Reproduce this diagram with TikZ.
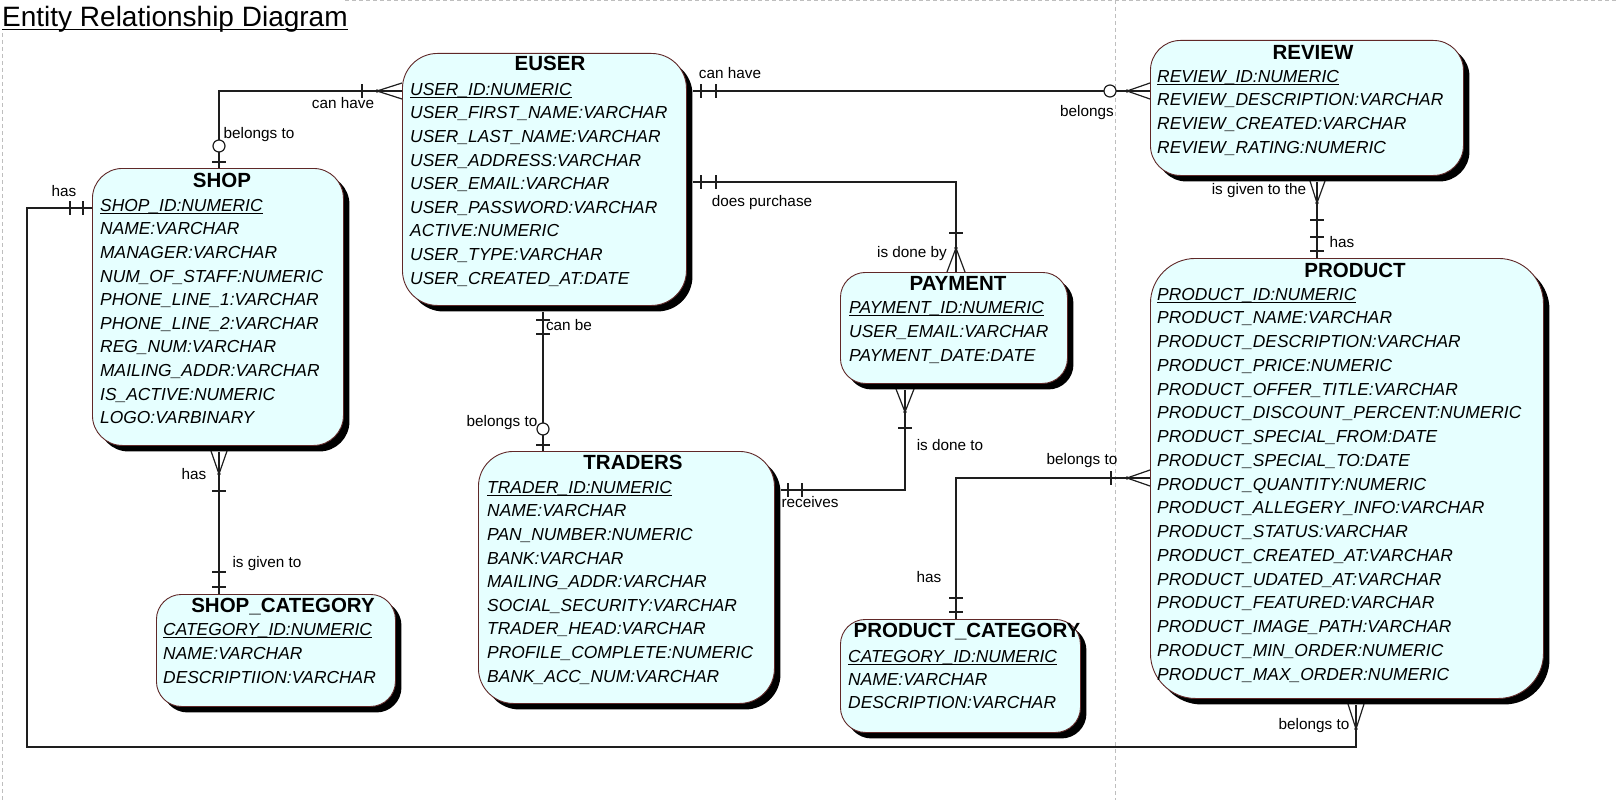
\documentclass[tikz,border=0pt]{standalone}
\usepackage{fontspec}
\setmainfont{Liberation Sans}
\usetikzlibrary{shadows}
\definecolor{boxfill}{RGB}{230,255,255}
\definecolor{boxline}{RGB}{96,40,40}
\definecolor{pagedash}{RGB}{190,190,190}
\definecolor{linecol}{RGB}{30,30,30}
\newcommand\myul[3]{\setbox0\hbox{#3}\rlap{\rule[-#1]{\wd0}{#2}}\box0}
\tikzset{
  entity/.style={draw=boxline, line width=0.9pt, fill=boxfill, rounded corners=#1,
    inner sep=0pt, anchor=north west,
    drop shadow={shadow xshift=6pt, shadow yshift=-6pt, opacity=1, fill=black}},
  entity/.default=30pt,
  etitle/.style={font=\fontsize{20.5}{24}\selectfont\bfseries, inner sep=0pt, anchor=base},
  attr/.style={font=\fontsize{17.4}{20}\selectfont\itshape, inner sep=0pt, anchor=base west, text=black},
  lbl/.style={font=\fontsize{15.3}{18}\selectfont, inner sep=0pt, anchor=center},
  conn/.style={draw=linecol, line width=1.2pt},
  tick/.style={draw=linecol, line width=1.2pt},
  pdash/.style={draw=pagedash, line width=1pt, dash pattern=on 4pt off 3pt}
}
\begin{document}
\begin{tikzpicture}[x=1pt, y=-1pt]
\useasboundingbox (0,0) rectangle (1616,800);
% page lines
\draw[pdash] (345,1) -- (1616,1);
\draw[pdash] (2,33) -- (2,800);
\draw[pdash] (1115,0) -- (1115,800);

% title
\node[anchor=base west, inner sep=0pt, font=\fontsize{28}{32}\selectfont] (title) at (2,27)
  {\myul{3.5pt}{1.6pt}{Entity Relationship Diagram}};

% entity boxes (drawn first as shapes, connectors are drawn from their names)
\node[entity=30pt, minimum width=251pt, minimum height=277pt] (shop) at (92,168) {};
\node[entity=35pt, minimum width=284pt, minimum height=252pt] (euser) at (402,53) {};
\node[entity=30pt, minimum width=313pt, minimum height=135pt] (review) at (1150,40) {};
\node[entity=45pt, minimum width=393pt, minimum height=440pt] (product) at (1150,258) {};
\node[entity=25pt, minimum width=227pt, minimum height=111pt] (payment) at (840,272) {};
\node[entity=35pt, minimum width=296pt, minimum height=252pt] (traders) at (478,451) {};
\node[entity=25pt, minimum width=239pt, minimum height=112pt] (shopcat) at (156,594) {};
\node[entity=25pt, minimum width=240pt, minimum height=113pt] (prodcat) at (840,619) {};

% bend points
\coordinate (b1) at (219,91);
\coordinate (b3) at (956,182);
\coordinate (b4) at (543,0);
\coordinate (b5) at (905,490);
\coordinate (b6) at (219,0);
\coordinate (b7a) at (27,208);
\coordinate (b7b) at (27,747);
\coordinate (b7c) at (1356,747);
\coordinate (b8) at (956,478);
\coordinate (b9) at (1317,0);

% connectors
\draw[conn] (euser.west |- b1) -- (b1) -- ([yshift=0pt]shop.north -| b1);
\draw[conn] ([xshift=6pt]euser.east |- b1) -- (review.west |- b1);
\draw[conn] ([xshift=6pt]euser.east |- b3) -- (b3) -- (payment.north -| b3);
\draw[conn] ([yshift=-6pt]euser.south -| b4) -- (traders.north -| b4);
\draw[conn] ([xshift=6pt]traders.east |- b5) -- (b5) -- ([yshift=-6pt]payment.south -| b5);
\draw[conn] ([yshift=-6pt]shop.south -| b6) -- (shopcat.north -| b6);
\draw[conn] (shop.west |- b7a) -- (b7a) -- (b7b) -- (b7c) -- ([yshift=-6pt]product.south -| b7c);
\draw[conn] (product.west |- b8) -- (b8) -- (prodcat.north -| b8);
\draw[conn] ([yshift=-6pt]review.south -| b9) -- (product.north -| b9);

% cardinality marks
% 1 euser - shop
\draw[tick] (362,84) -- (362,98);
\draw[tick] (377,91) -- (402,83) (377,91) -- (402,99);
\fill[linecol] (377,91) circle (1.8pt);
\draw[tick] (212,162) -- (226,162);
\draw[tick, fill=white] (219,146) circle (6pt);
% 2 euser - review
\draw[tick] (701,84) -- (701,98) (716,84) -- (716,98);
\draw[tick, fill=white] (1110,91) circle (6pt);
\draw[tick] (1127,91) -- (1150,83) (1127,91) -- (1150,99);
\fill[linecol] (1127,91) circle (1.8pt);
% 3 euser - payment
\draw[tick] (701,175) -- (701,189) (716,175) -- (716,189);
\draw[tick] (949,233) -- (963,233);
\draw[tick] (956,248) -- (947,272) (956,248) -- (965,272);
\fill[linecol] (956,248) circle (1.8pt);
% 4 euser - traders
\draw[tick] (536,320) -- (550,320) (536,334) -- (550,334);
\draw[tick, fill=white] (543,429) circle (6pt);
\draw[tick] (536,445) -- (550,445);
% 5 traders - payment
\draw[tick] (788,483) -- (788,497) (802,483) -- (802,497);
\draw[tick] (898,428) -- (912,428);
\draw[tick] (905,412) -- (896,389) (905,412) -- (914,389);
\fill[linecol] (905,412) circle (1.8pt);
% 6 shop - shop category
\draw[tick] (219,474) -- (211,451) (219,474) -- (227,451);
\fill[linecol] (219,474) circle (1.8pt);
\draw[tick] (212,491) -- (226,491);
\draw[tick] (212,572) -- (226,572) (212,587) -- (226,587);
% 7 shop - product
\draw[tick] (70,201) -- (70,215) (83,201) -- (83,215);
\draw[tick] (1356,729) -- (1348,704) (1356,729) -- (1364,704);
\fill[linecol] (1356,729) circle (1.8pt);
% 8 product - product category
\draw[tick] (1111,471) -- (1111,485);
\draw[tick] (1127,478) -- (1150,470) (1127,478) -- (1150,486);
\fill[linecol] (1127,478) circle (1.8pt);
\draw[tick] (949,598) -- (963,598) (949,612) -- (963,612);
% 9 review - product
\draw[tick] (1317,203) -- (1310,181) (1317,203) -- (1325,181);
\fill[linecol] (1317,203) circle (1.8pt);
\draw[tick] (1310,220) -- (1324,220) (1310,237) -- (1324,237) (1310,251) -- (1324,251);

% titles
\node[etitle] (shop-t) at (222,187.3) {SHOP};
\node[etitle] (euser-t) at (550,70.3) {EUSER};
\node[etitle] (review-t) at (1313,59.3) {REVIEW};
\node[etitle] (product-t) at (1355,277.3) {PRODUCT};
\node[etitle] (payment-t) at (958,290.3) {PAYMENT};
\node[etitle] (traders-t) at (633,469.3) {TRADERS};
\node[etitle] (shopcat-t) at (283,612.3) {SHOP\_CATEGORY};
\node[etitle] (prodcat-t) at (967,637.3) {PRODUCT\_CATEGORY};

% attributes
\foreach \t [count=\i] in {\myul{3pt}{1pt}{SHOP\_ID:NUMERIC}, NAME:VARCHAR, MANAGER:VARCHAR,
  NUM\_OF\_STAFF:NUMERIC, PHONE\_LINE\_1:VARCHAR, PHONE\_LINE\_2:VARCHAR, REG\_NUM:VARCHAR,
  MAILING\_ADDR:VARCHAR, IS\_ACTIVE:NUMERIC, LOGO:VARBINARY}
  \node[attr] (shop-a\i) at (100,{211.2+(\i-1)*23.6}) {\t};
\foreach \t [count=\i] in {\myul{3pt}{1pt}{USER\_ID:NUMERIC}, USER\_FIRST\_NAME:VARCHAR,
  USER\_LAST\_NAME:VARCHAR, USER\_ADDRESS:VARCHAR, USER\_EMAIL:VARCHAR, USER\_PASSWORD:VARCHAR,
  ACTIVE:NUMERIC, USER\_TYPE:VARCHAR, USER\_CREATED\_AT:DATE}
  \node[attr] (euser-a\i) at (410,{95.2+(\i-1)*23.6}) {\t};
\foreach \t [count=\i] in {\myul{3pt}{1pt}{REVIEW\_ID:NUMERIC}, REVIEW\_DESCRIPTION:VARCHAR,
  REVIEW\_CREATED:VARCHAR, REVIEW\_RATING:NUMERIC}
  \node[attr] (review-a\i) at (1157,{82.2+(\i-1)*23.6}) {\t};
\foreach \t [count=\i] in {\myul{3pt}{1pt}{PRODUCT\_ID:NUMERIC}, PRODUCT\_NAME:VARCHAR,
  PRODUCT\_DESCRIPTION:VARCHAR, PRODUCT\_PRICE:NUMERIC, PRODUCT\_OFFER\_TITLE:VARCHAR,
  PRODUCT\_DISCOUNT\_PERCENT:NUMERIC, PRODUCT\_SPECIAL\_FROM:DATE, PRODUCT\_SPECIAL\_TO:DATE,
  PRODUCT\_QUANTITY:NUMERIC, PRODUCT\_ALLEGERY\_INFO:VARCHAR, PRODUCT\_STATUS:VARCHAR,
  PRODUCT\_CREATED\_AT:VARCHAR, PRODUCT\_UDATED\_AT:VARCHAR, PRODUCT\_FEATURED:VARCHAR,
  PRODUCT\_IMAGE\_PATH:VARCHAR, PRODUCT\_MIN\_ORDER:NUMERIC, PRODUCT\_MAX\_ORDER:NUMERIC}
  \node[attr] (product-a\i) at (1157,{300.2+(\i-1)*23.75}) {\t};
\foreach \t [count=\i] in {\myul{3pt}{1pt}{PAYMENT\_ID:NUMERIC}, USER\_EMAIL:VARCHAR,
  PAYMENT\_DATE:DATE}
  \node[attr] (payment-a\i) at (849,{313.2+(\i-1)*24}) {\t};
\foreach \t [count=\i] in {\myul{3pt}{1pt}{TRADER\_ID:NUMERIC}, NAME:VARCHAR, PAN\_NUMBER:NUMERIC,
  BANK:VARCHAR, MAILING\_ADDR:VARCHAR, SOCIAL\_SECURITY:VARCHAR, TRADER\_HEAD:VARCHAR,
  PROFILE\_COMPLETE:NUMERIC, BANK\_ACC\_NUM:VARCHAR}
  \node[attr] (traders-a\i) at (487,{493.2+(\i-1)*23.6}) {\t};
\foreach \t [count=\i] in {\myul{3pt}{1pt}{CATEGORY\_ID:NUMERIC}, NAME:VARCHAR, DESCRIPTIION:VARCHAR}
  \node[attr] (shopcat-a\i) at (163,{635.2+(\i-1)*24}) {\t};
\foreach \t [count=\i] in {\myul{3pt}{1pt}{CATEGORY\_ID:NUMERIC}, NAME:VARCHAR, DESCRIPTION:VARCHAR}
  \node[attr] (prodcat-a\i) at (848,{662.2+(\i-1)*23}) {\t};

% relationship labels
\node[lbl] (l1) at (343,103) {can have};
\node[lbl] (l2) at (259,135) {belongs to};
\node[lbl] (l3) at (730,73) {can have};
\node[lbl] (l4) at (1087,113) {belongs};
\node[lbl] (l5) at (762,203) {does purchase};
\node[lbl] (l6) at (912,254) {is done by};
\node[lbl] (l7) at (569,325) {can be};
\node[lbl] (l8) at (502,423) {belongs to};
\node[lbl] (l9) at (810,502) {receives};
\node[lbl] (l10) at (950,445) {is done to};
\node[lbl] (l11) at (194,474) {has};
\node[lbl] (l12) at (267,564) {is given to};
\node[lbl] (l13) at (64,191) {has};
\node[lbl] (l14) at (1314,726) {belongs to};
\node[lbl] (l15) at (1082,461) {belongs to};
\node[lbl] (l16) at (929,577) {has};
\node[lbl] (l17) at (1259,191) {is given to the};
\node[lbl] (l18) at (1342,242) {has};
\end{tikzpicture}
\end{document}
